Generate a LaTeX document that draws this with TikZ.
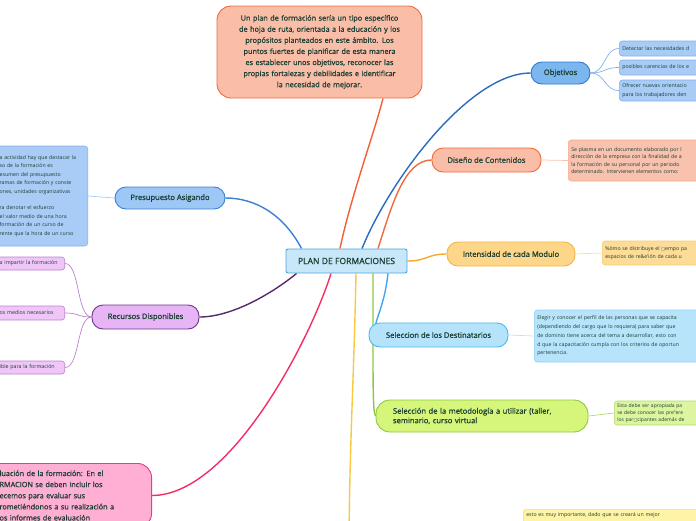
\documentclass[tikz,border=0pt]{standalone}
\usepackage{fontspec}
\setmainfont{Open Sans}
\newfontfamily\topicfamily[FakeBold=1]{Open Sans}
\newfontfamily\boxglyph{DejaVu Sans}
\usetikzlibrary{calc,backgrounds}
\definecolor{ink}{HTML}{1C3F33}
\definecolor{planfill}{HTML}{C8E8FA}\definecolor{plandraw}{HTML}{4BA3DE}
\definecolor{salmonfill}{HTML}{F9BDA8}\definecolor{salmondraw}{HTML}{F26A3B}
\definecolor{salmonleaf}{HTML}{F9C2AE}\definecolor{salmonedge}{HTML}{F5A98D}
\definecolor{objfill}{HTML}{7CB6EF}\definecolor{objdraw}{HTML}{2F78D3}
\definecolor{presfill}{HTML}{9DC7F5}\definecolor{presdraw}{HTML}{3B80D6}
\definecolor{blueleaf}{HTML}{A8CCF6}\definecolor{blueedge}{HTML}{80B2EB}
\definecolor{recfill}{HTML}{E7B5F5}\definecolor{recdraw}{HTML}{6C3688}
\definecolor{recleaf}{HTML}{EFC6F7}\definecolor{recedge}{HTML}{B884CB}
\definecolor{evalfill}{HTML}{FFAFD3}\definecolor{evaldraw}{HTML}{F0397E}
\definecolor{intfill}{HTML}{FDD68A}\definecolor{intdraw}{HTML}{F3B43C}
\definecolor{intleaf}{HTML}{FDDC98}\definecolor{intedge}{HTML}{F7CB70}
\definecolor{destfill}{HTML}{B4E3FB}\definecolor{destdraw}{HTML}{48B9EE}
\definecolor{destleaf}{HTML}{B8E4FB}\definecolor{destedge}{HTML}{8DD0F3}
\definecolor{metfill}{HTML}{D6F57B}\definecolor{metdraw}{HTML}{8FC63E}
\definecolor{metleaf}{HTML}{DDF59E}\definecolor{metedge}{HTML}{B2DA6A}
\definecolor{yelleaf}{HTML}{FFF4A6}\definecolor{yeledge}{HTML}{F5DF66}
\begin{document}
\begin{tikzpicture}[x=1pt, y=-1pt,
    topic/.style={draw, line width=0.9pt, rounded corners=11, minimum height=24, inner xsep=7, text=ink, font=\topicfamily\fontsize{7.6}{9.5}\selectfont},
    leaf/.style={draw, line width=0.6pt, rounded corners=3, inner xsep=3, inner ysep=1.5, align=left, text=ink},
    memo/.style={draw, line width=0.9pt, rounded corners=14, text=ink, font=\topicfamily\fontsize{7.3}{11.1}\selectfont},
    trunk/.style={line width=1.4pt},
    twig/.style={line width=0.7pt}]
  \useasboundingbox (0,0) rectangle (696,520);

  \node[draw=plandraw, fill=planfill, line width=0.9pt, rounded corners=2, minimum width=121, minimum height=24, text=ink, font=\topicfamily\fontsize{8.6}{10}\selectfont] (plan) at (346.5,261) {PLAN DE FORMACIONES};

  \node[memo, draw=salmondraw, fill=salmonfill, text width=195, inner xsep=5, minimum height=92, align=center] (intro) at (319.5,52) {Un plan de formación sería un tipo específico\\de hoja de ruta, orientada a la educación y los\\propósitos planteados en este ámbito. Los\\puntos fuertes de planificar de esta manera\\es establecer unos objetivos, reconocer las\\propias fortalezas y debilidades e identificar\\la necesidad de mejorar.};
  \node[memo, draw=evaldraw, fill=evalfill, anchor=north east, text width=138, inner xsep=14, inner ysep=7, align=left] (eval) at (152,463) {luación de la formación: En el\\RMACION se deben incluir los\\ecemos para evaluar sus\\rometiéndonos a su realización a\\os informes de evaluación};

  \node[topic, draw=objdraw, fill=objfill, minimum width=59, minimum height=22] (obje) at (560.5,73) {Objetivos};
  \node[topic, draw=salmondraw, fill=salmonfill, minimum width=109] (dise) at (486.5,160) {Diseño de Contenidos};
  \node[topic, draw=intdraw, fill=intfill, minimum width=128] (inte) at (511,254) {Intensidad de cada Modulo};
  \node[topic, draw=destdraw, fill=destfill, minimum width=139] (dest) at (438.5,335) {Seleccion de los Destinatarios};
  \node[topic, draw=metdraw, fill=metfill, text width=178, inner xsep=17, minimum height=32, align=left, rounded corners=14] (meto) at (482,416) {Selección de la metodología a utilizar (taller,\\seminario, curso virtual};
  \node[topic, draw=presdraw, fill=presfill, minimum width=110, minimum height=22] (pres) at (170,198) {Presupuesto Asigando};
  \node[topic, draw=recdraw, fill=recfill, minimum width=107] (recu) at (145.5,317) {Recursos Disponibles};

  \node[leaf, draw=blueedge, fill=blueleaf, anchor=west, text width=120, minimum height=15, font=\fontsize{5.3}{8.5}\selectfont] (obj1) at (619,48.5) {Detectar las necesidades d};
  \node[leaf, draw=blueedge, fill=blueleaf, anchor=west, text width=120, minimum height=15, font=\fontsize{5.3}{8.5}\selectfont] (obj2) at (619,67.5) {posibles carencias de los e};
  \node[leaf, draw=blueedge, fill=blueleaf, anchor=west, text width=120, minimum height=21, font=\fontsize{5.3}{8.3}\selectfont] (obj3) at (619,90.5) {Ofrecer nuevas orientacio\\para los trabajadores den};
  \node[leaf, draw=salmonedge, fill=salmonleaf, anchor=west, text width=140, minimum height=41, font=\fontsize{5.2}{7.6}\selectfont] (disn) at (568,160.5) {Se plasma en un documento elaborado por l\\dirección de la empresa con la finalidad de a\\la formación de su personal por un periodo\\determinado.\enspace Intervienen elementos como:};
  \node[leaf, draw=intedge, fill=intleaf, anchor=west, text width=120, minimum height=24, font=\fontsize{5.2}{8.6}\selectfont] (intn) at (602,253) {\%ómo se distribuye el {\boxglyph\fontsize{4}{4}\selectfont □}empo pa\\espacios de re\&e'ión de cada u};
  \node[leaf, draw=destedge, fill=destleaf, anchor=west, text width=180, minimum height=52, font=\fontsize{5.2}{8.7}\selectfont] (destn) at (534,336) {Elegir y conocer el perfil de las personas que se capacita\\(dependiendo del cargo que lo requiera) para saber que\\de dominio tiene acerca del tema a desarrollar, esto con\\d que la capacitación cumpla con los criterios de oportun\\pertenencia.};
  \node[leaf, draw=metedge, fill=metleaf, anchor=west, text width=120, minimum height=24, font=\fontsize{5}{6.9}\selectfont] (meton) at (614,413) {Esta debe ser apropiada pa\\se debe conocer las pre"ere\\los par{\boxglyph\fontsize{4}{4}\selectfont □}cipantes además de};
  \node[leaf, draw=yeledge, fill=yelleaf, anchor=north west, text width=190, inner ysep=3, text depth=20, font=\fontsize{5.2}{8.5}\selectfont] (yeln) at (523,509) {esto es muy importante, dado que se creará un mejor};
  \node[leaf, draw=blueedge, fill=blueleaf, anchor=east, text width=84, inner xsep=4, minimum height=100, font=\fontsize{5.2}{8.4}\selectfont] (presn) at (88,196) {a actividad hay que destacar la\\so de la formación es\\esumen del presupuesto\\ramas de formación y conste\\ones, unidades organizativas\\[8.4pt]ra denotar el esfuerzo\\el valor medio de una hora\\formación de un curso de\\rente que la hora de un curso};
  \node[leaf, draw=recedge, fill=recleaf, anchor=east, text width=62, minimum height=13, font=\fontsize{5.3}{8}\selectfont] (rec1) at (65,263.5) {a impartir la formación};
  \node[leaf, draw=recedge, fill=recleaf, anchor=east, text width=62, minimum height=14, font=\fontsize{5.3}{8}\selectfont] (rec2) at (65,313) {os medios necesarios};
  \node[leaf, draw=recedge, fill=recleaf, anchor=east, text width=62, minimum height=13, font=\fontsize{5.3}{8}\selectfont] (rec3) at (65,367.5) {ible para la formación};

  \coordinate (tail) at (349,535);

  \begin{scope}[on background layer]
    \draw[trunk, color=salmondraw!90!red] ($(plan.north)+(-6.5,0)$) .. controls +(10,-49) and +(-8,32) .. ($(intro.south)+(63.5,0)$);
    \draw[trunk, color=salmondraw] ($(plan.north)+(31.5,0)$) .. controls +(14,-44) and +(-27,0) .. (dise.west);
    \draw[trunk, color=objdraw!90!black] ($(plan.north)+(15.5,0)$) .. controls +(28,-69) and +(-61,0) .. (obje.west);
    \draw[trunk, color=presdraw] ($(plan.north west)+(16,0)$) .. controls +(-18,-34) and +(30,0) .. (pres.east);
    \draw[trunk, color=intdraw!80!orange] (plan.east) .. controls +(20,0) and +(-20,0) .. (inte.west);
    \draw[trunk, color=destdraw!90!blue] ($(plan.south)+(41.5,0)$) .. controls +(-3,27) and +(3,-12) .. ($(dest.north west)+(7,2)$);
    \draw[trunk, color=metdraw] ($(plan.south)+(26.5,0)$) .. controls +(0,110) and +(-3,-4) .. (meto.west);
    \draw[trunk, color=yeledge!70!orange!90!yellow] ($(plan.south)+(9.5,0)$) .. controls +(-2,100) and +(1,-100) .. (tail);
    \draw[trunk, color=evaldraw!80!red] ($(plan.south)+(-15.5,0)$) .. controls +(-21,67) and +(78,0) .. (eval.east);
    \draw[trunk, color=recdraw!80!black] ($(plan.south west)+(11,0)$) .. controls +(-27,22) and +(31,0) .. (recu.east);
    \foreach \n in {obj1,obj2,obj3}
      \draw[twig, color=blueedge] (obje.east) .. controls +(15,0) and +(-15,0) .. (\n.west);
    \foreach \n in {rec1,rec2,rec3}
      \draw[twig, color=recedge] (recu.west) .. controls +(-15,0) and +(15,0) .. (\n.east);
    \draw[twig, color=blueleaf] (pres.west) -- (presn.east);
    \draw[twig, color=salmonleaf] (dise.east) -- (disn.west);
    \draw[twig, color=intleaf] (inte.east) -- (intn.west);
    \draw[twig, color=destleaf] (dest.east) -- (destn.west);
    \draw[twig, color=metedge] (meto.east) -- (meton.west);
  \end{scope}
\end{tikzpicture}
\end{document}
